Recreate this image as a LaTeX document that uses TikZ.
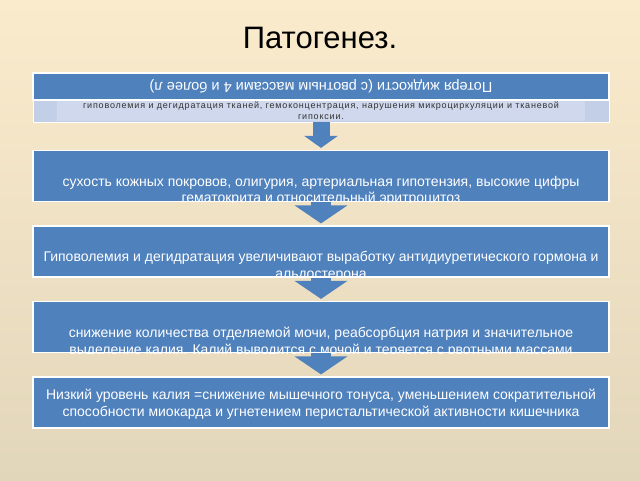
\documentclass[tikz,border=0pt]{standalone}
\usepackage{fontspec}
\setmainfont{Liberation Sans}
\usetikzlibrary{arrows.meta,positioning,shapes}
\definecolor{boxblue}{HTML}{4F81BD}
\definecolor{striplav}{HTML}{C3CFE6}
\definecolor{stripin}{HTML}{CFD8EC}
\definecolor{bgtop}{HTML}{FBEBCD}
\definecolor{bgmid}{HTML}{F3EADA}
\definecolor{bgbot}{HTML}{E2D6BA}

\begin{document}
\begin{tikzpicture}[x=1pt,y=-1pt,thin]
\tikzstyle{stage}=[shape=rectangle,draw=white,line width=1.2pt,fill=boxblue,minimum width=576pt,minimum height=51pt,inner sep=0pt]
\tikzstyle{stagetext}=[text=white,font=\fontsize{14}{16.7}\selectfont,align=center,inner sep=0pt]
\tikzstyle{flow}=[draw=boxblue,line width=20pt,-{Triangle[width=52pt,length=18pt,fill=boxblue]},shorten >=2pt]

\useasboundingbox (0,0) rectangle (640,480);
\shade[top color=bgtop,middle color=bgmid,bottom color=bgbot] (0,0) rectangle (640,480);

\node (T) at (320,38) {\fontsize{31}{36}\selectfont Патогенез.};

\node[stage, minimum height=27pt] (A) at (321,86.5) {};
\node[stage, fill=striplav, line width=0.6pt, minimum height=22pt] (B) [below of=A, node distance=24.5pt] {};
\node[fill=stripin, minimum width=528pt, minimum height=20pt, inner sep=0pt] (Bi) at (B) {};
\node[stage] (C) [below of=B, node distance=65pt] {};
\node[stage] (D) [below of=C, node distance=75.5pt] {};
\node[stage] (E) [below of=D, node distance=75.5pt] {};
\node[stage] (F) [below of=E, node distance=75.5pt] {};

\node[text=white, rotate=180, font=\fontsize{14.5}{16}\selectfont] (At) at (A) {Потеря жидкости (с рвотным массами 4 и более л)};
\node[text=black!80, align=center, font=\fontsize{9}{11}\selectfont\addfontfeatures{LetterSpace=9}] (Bt) at (B) {гиповолемия и дегидратация тканей, гемоконцентрация, нарушения микроциркуляции и тканевой\\гипоксии.};

\begin{scope}
\clip (C.south west) rectangle (C.north east);
\node[stagetext] (Ct) at ([yshift=-15pt]C.center) {сухость кожных покровов, олигурия, артериальная гипотензия, высокие цифры\\гематокрита и относительный эритроцитоз};
\end{scope}
\begin{scope}
\clip (D.south west) rectangle (D.north east);
\node[stagetext] (Dt) at ([yshift=-15pt]D.center) {Гиповолемия и дегидратация увеличивают выработку антидиуретического гормона и\\альдостерона};
\end{scope}
\begin{scope}
\clip (E.south west) rectangle (E.north east);
\node[stagetext] (Et) at ([yshift=-15pt]E.center) {снижение количества отделяемой мочи, реабсорбция натрия и значительное\\выделение калия. Калий выводится с мочой и теряется с рвотными массами};
\end{scope}
\node[stagetext] (Ft) at ([yshift=-2pt]F.center) {Низкий уровень калия =снижение мышечного тонуса, уменьшением сократительной\\способности миокарда и угнетением перистальтической активности кишечника};

\path
(B) edge[flow, line width=17pt, -{Triangle[width=33pt,length=12pt,fill=boxblue]}] (C)
(C) edge[flow] (D)
(D) edge[flow] (E)
(E) edge[flow] (F)
;
\end{tikzpicture}
\end{document}
